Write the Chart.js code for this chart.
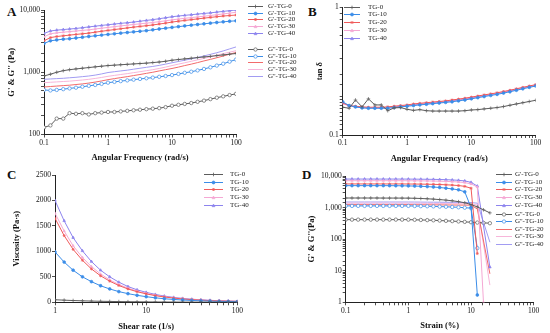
<!DOCTYPE html>
<html>
<head>
<meta charset="utf-8">
<script src="https://cdn.jsdelivr.net/npm/chart.js@4.4.1/dist/chart.umd.min.js"></script>
<style>
  body { margin: 0; width: 550px; height: 333px; position: relative; overflow: hidden; background: #fff;
         font-family: "Liberation Serif", "DejaVu Serif", serif; }
  canvas { position: absolute; }
  .tag { position: absolute; font-weight: bold; font-size: 13px; line-height: 13px; color: #111; }
  .lg { position: absolute; font-size: 7px; line-height: 7px; color: #222; white-space: nowrap; }
  .lg svg { position: absolute; overflow: visible; }
</style>
</head>
<body>
<div class="tag" style="left:7px;top:4.5px">A</div>
<div class="tag" style="left:308px;top:4.5px">B</div>
<div class="tag" style="left:7px;top:167.5px">C</div>
<div class="tag" style="left:302px;top:167.5px">D</div>

<canvas id="chartA" width="244" height="164" style="left:0;top:0"></canvas>
<canvas id="chartB" width="275" height="166" style="left:275px;top:0"></canvas>
<canvas id="chartC" width="244" height="165" style="left:0;top:168px"></canvas>
<canvas id="chartD" width="275" height="165" style="left:275px;top:168px"></canvas>

<script>
const SERIF = '"Liberation Serif", "DejaVu Serif", serif';

// A / B : frequency sweep
const freq = [0.1, 0.126, 0.158, 0.2, 0.251, 0.316, 0.398, 0.501, 0.631, 0.794,
  1, 1.26, 1.58, 2, 2.51, 3.16, 3.98, 5.01, 6.31, 7.94,
  10, 12.6, 15.8, 20, 25.1, 31.6, 39.8, 50.1, 63.1, 79.4, 100];

const aGp0  = [870, 930, 1000, 1060, 1100, 1130, 1160, 1190, 1220, 1250, 1280, 1300, 1320, 1340, 1360, 1380, 1400, 1430, 1460, 1500, 1560, 1600, 1640, 1680, 1720, 1760, 1800, 1850, 1900, 1950, 2000];
const aGp10 = [2900, 3200, 3300, 3400, 3450, 3550, 3650, 3750, 3850, 3950, 4050, 4150, 4250, 4350, 4450, 4550, 4650, 4800, 4950, 5100, 5250, 5400, 5550, 5700, 5850, 6000, 6150, 6300, 6450, 6600, 6700];
const aGp20 = [3200, 3600, 3750, 3850, 3950, 4050, 4150, 4250, 4400, 4550, 4700, 4850, 5000, 5150, 5300, 5450, 5600, 5750, 5950, 6150, 6400, 6600, 6800, 7000, 7200, 7400, 7600, 7800, 8000, 8150, 8300];
const aGp30 = [3700, 4150, 4300, 4400, 4500, 4600, 4700, 4800, 4950, 5100, 5250, 5400, 5550, 5700, 5850, 6000, 6150, 6300, 6500, 6700, 6950, 7150, 7350, 7550, 7750, 7950, 8150, 8400, 8650, 8900, 9200];
const aGp40 = [4200, 4600, 4750, 4850, 4950, 5050, 5200, 5350, 5500, 5650, 5800, 5950, 6100, 6250, 6400, 6600, 6800, 7000, 7250, 7500, 7800, 8000, 8200, 8400, 8600, 8800, 9000, 9250, 9500, 9750, 10000];

const aGpp0  = [130, 140, 180, 180, 220, 215, 220, 210, 220, 225, 230, 230, 235, 240, 245, 250, 255, 260, 265, 275, 290, 300, 310, 320, 335, 350, 370, 390, 410, 430, 450];
const aGpp10 = [520, 510, 520, 535, 550, 565, 585, 605, 625, 650, 680, 700, 720, 740, 760, 780, 800, 820, 845, 870, 900, 940, 980, 1020, 1070, 1130, 1200, 1280, 1370, 1480, 1600];
const aGpp20 = [580, 590, 600, 610, 620, 635, 650, 670, 695, 725, 760, 790, 820, 850, 885, 920, 960, 1000, 1050, 1100, 1150, 1210, 1280, 1350, 1430, 1520, 1610, 1710, 1820, 1950, 2080];
const aGpp30 = [680, 690, 700, 710, 720, 735, 750, 770, 795, 825, 860, 890, 920, 950, 985, 1020, 1060, 1100, 1150, 1210, 1280, 1350, 1420, 1500, 1580, 1670, 1770, 1880, 1990, 2100, 2220];
const aGpp40 = [770, 780, 790, 800, 815, 830, 850, 870, 900, 940, 990, 1020, 1050, 1080, 1120, 1160, 1200, 1240, 1290, 1350, 1420, 1490, 1560, 1640, 1730, 1830, 1940, 2060, 2200, 2370, 2550];

const tan0  = [0.165, 0.162, 0.188, 0.166, 0.192, 0.172, 0.172, 0.155, 0.163, 0.164, 0.159, 0.156, 0.158, 0.155, 0.154, 0.154, 0.154, 0.154, 0.154, 0.155, 0.157, 0.158, 0.160, 0.162, 0.164, 0.167, 0.171, 0.175, 0.179, 0.183, 0.187];
const tan10 = [0.182, 0.170, 0.166, 0.163, 0.162, 0.162, 0.162, 0.162, 0.164, 0.166, 0.168, 0.170, 0.172, 0.174, 0.176, 0.178, 0.180, 0.182, 0.185, 0.188, 0.192, 0.196, 0.200, 0.204, 0.208, 0.213, 0.218, 0.224, 0.230, 0.236, 0.242];
const tan20 = [0.178, 0.170, 0.168, 0.166, 0.165, 0.165, 0.165, 0.166, 0.168, 0.170, 0.172, 0.175, 0.177, 0.179, 0.181, 0.183, 0.185, 0.188, 0.191, 0.194, 0.198, 0.202, 0.206, 0.210, 0.214, 0.219, 0.224, 0.230, 0.236, 0.242, 0.248];
const tan30 = [0.176, 0.169, 0.167, 0.165, 0.164, 0.164, 0.164, 0.165, 0.167, 0.169, 0.171, 0.174, 0.176, 0.178, 0.180, 0.182, 0.184, 0.187, 0.190, 0.193, 0.197, 0.201, 0.205, 0.209, 0.213, 0.218, 0.223, 0.229, 0.235, 0.241, 0.247];
const tan40 = [0.178, 0.169, 0.166, 0.164, 0.163, 0.163, 0.163, 0.164, 0.166, 0.168, 0.170, 0.172, 0.174, 0.176, 0.178, 0.180, 0.182, 0.185, 0.188, 0.191, 0.195, 0.199, 0.203, 0.207, 0.211, 0.216, 0.221, 0.227, 0.233, 0.239, 0.245];

// C : flow curve
const shearRate = [1, 1.26, 1.58, 2, 2.51, 3.16, 3.98, 5.01, 6.31, 7.94,
  10, 12.6, 15.8, 20, 25.1, 31.6, 39.8, 50.1, 63.1, 79.4, 100];
const visc0  = [50, 42, 35, 29, 24, 20, 17, 14, 12, 10, 8, 7, 6, 5, 4, 3.5, 3, 2.5, 2, 1.8, 1.5];
const visc10 = [990, 790, 630, 500, 405, 325, 262, 210, 170, 137, 110, 88, 70, 56, 45, 36, 29, 23, 18, 15, 12];
const visc20 = [1650, 1310, 1040, 825, 655, 520, 415, 330, 262, 208, 165, 131, 104, 83, 66, 52, 42, 33, 26, 21, 17];
const visc30 = [1750, 1400, 1110, 880, 700, 555, 440, 350, 278, 220, 175, 139, 110, 87, 69, 55, 44, 35, 28, 22, 18];
const visc40 = [2000, 1600, 1270, 1010, 800, 630, 500, 395, 310, 245, 195, 155, 122, 97, 77, 61, 49, 39, 31, 25, 20];

// D : strain sweep
const strain = [0.1, 0.126, 0.158, 0.2, 0.251, 0.316, 0.398, 0.501, 0.631, 0.794,
  1, 1.26, 1.58, 2, 2.51, 3.16, 3.98, 5.01, 6.31, 7.94, 10, 12.6, 15.8, 20];
const dGp0  = [2010, 2010, 2010, 2010, 2010, 2010, 2000, 2000, 2000, 1995, 1990, 1970, 1940, 1900, 1850, 1790, 1720, 1640, 1540, 1420, 1250, 1050, 850, 680];
const dGp10 = [4950, 4950, 4950, 4950, 4950, 4950, 4950, 4940, 4920, 4900, 4850, 4800, 4720, 4620, 4480, 4320, 4120, 3900, 3650, 3150, 1000, 1.7, null, null];
const dGp20 = [5600, 5600, 5600, 5600, 5600, 5600, 5600, 5600, 5600, 5600, 5580, 5560, 5530, 5490, 5440, 5370, 5270, 5150, 4980, 4700, 4100, 35, null, null];
const dGp30 = [7100, 7100, 7100, 7100, 7100, 7100, 7100, 7100, 7100, 7100, 7080, 7050, 7020, 6980, 6920, 6850, 6750, 6620, 6450, 6200, 5600, 4500, 1, null];
const dGp40 = [8000, 8000, 8000, 8000, 8000, 8000, 8000, 8000, 8000, 8000, 7980, 7950, 7920, 7880, 7820, 7750, 7650, 7500, 7300, 7000, 6300, 4800, null, 13];
const dGpp0  = [415, 415, 415, 415, 415, 415, 415, 415, 415, 415, 415, 410, 405, 400, 395, 388, 380, 372, 363, 353, 343, 335, 328, 320];
const dGpp10 = [1130, 1130, 1130, 1130, 1130, 1130, 1130, 1130, 1130, 1130, 1130, 1120, 1110, 1100, 1090, 1075, 1060, 1040, 1020, 990, 960, 52, null, null];
const dGpp20 = [1240, 1240, 1240, 1240, 1240, 1240, 1240, 1240, 1240, 1240, 1240, 1235, 1230, 1225, 1220, 1215, 1210, 1205, 1200, 1195, 1190, 900, null, 8];
const dGpp30 = [1370, 1370, 1370, 1370, 1370, 1370, 1370, 1370, 1370, 1370, 1370, 1365, 1360, 1355, 1350, 1345, 1340, 1335, 1330, 1320, 1310, 1200, null, 3.5];
const dGpp40 = [1500, 1500, 1500, 1500, 1500, 1500, 1500, 1500, 1500, 1500, 1500, 1495, 1490, 1485, 1480, 1475, 1470, 1465, 1460, 1450, 1440, 1380, null, 80];

// look of each sample
const STY = {
  p0:  { color: '#5c5c5c', shape: 'cross',    r: 1.8, fill: true },
  p10: { color: '#3b8de8', shape: 'circle',   r: 1.4, fill: true },
  p20: { color: '#f05a5a', shape: 'star',     r: 1.5, fill: true },
  p30: { color: '#f5a8d4', shape: 'triangle', r: 1.3, fill: true },
  p40: { color: '#8d84ee', shape: 'triangle', r: 1.5, fill: true },
  q0:  { color: '#5c5c5c', shape: 'circle',   r: 1.7, fill: false },
  q10: { color: '#3b8de8', shape: 'circle',   r: 1.7, fill: false },
  q20: { color: '#f26b6b', shape: 'circle',   r: 0 },
  q30: { color: '#f7b6da', shape: 'circle',   r: 0 },
  q40: { color: '#a29cf2', shape: 'circle',   r: 0 }
};

function pts(xs, ys) {
  return xs.map((x, i) => ({ x: x, y: ys[i] }));
}

function series(label, xs, ys, st) {
  return {
    label: label,
    data: pts(xs, ys),
    borderColor: st.color,
    backgroundColor: st.fill ? st.color : '#fff',
    pointBorderColor: st.color,
    pointBackgroundColor: st.fill ? st.color : '#fff',
    pointStyle: st.shape,
    pointRadius: st.r,
    pointBorderWidth: 0.7,
    borderWidth: 1,
    tension: 0,
    spanGaps: true,
    _st: st
  };
}

function isDecade(v) {
  const l = Math.log10(v);
  return Math.abs(l - Math.round(l)) < 1e-6;
}
function fmt(v) {
  const n = Math.pow(10, Math.round(Math.log10(v)));
  return n >= 1000 ? n.toLocaleString('en-US') : String(+n.toPrecision(3));
}

function axis(type, min, max, title, size, isY) {
  const a = {
    type: type, min: min, max: max,
    title: { display: true, text: title, color: '#111',
             font: { family: SERIF, size: 8.5, weight: 'bold' }, padding: { top: 1, bottom: 1 } },
    ticks: { autoSkip: false, maxRotation: 0, color: '#111', padding: 1,
             font: { family: SERIF, size: 7.5 } },
    grid: { display: true, drawOnChartArea: false, drawTicks: true, tickLength: 3,
            tickColor: '#222', tickWidth: 0.8 },
    border: { display: true, color: '#222', width: 1 },
    afterFit: function (s) { if (isY) s.width = size; else s.height = size; }
  };
  if (type === 'logarithmic') a.ticks.callback = v => isDecade(v) ? fmt(v) : '';
  else a.ticks.callback = v => String(v);
  return a;
}

function makeChart(id, datasets, xAxis, yAxis, pad) {
  return new Chart(document.getElementById(id), {
    type: 'line',
    data: { datasets: datasets },
    options: {
      responsive: false, animation: false, devicePixelRatio: 1,
      layout: { padding: pad },
      plugins: { legend: { display: false }, tooltip: { enabled: false } },
      scales: { x: xAxis, y: yAxis }
    }
  });
}

function markerSvg(st, cx, cy) {
  const r = st.r ? Math.max(st.r, 1.5) : 0;
  if (!r) return '';
  const c = st.color, f = st.fill ? st.color : '#fff';
  if (st.shape === 'circle') return `<circle cx="${cx}" cy="${cy}" r="${r}" fill="${f}" stroke="${c}" stroke-width="0.7"/>`;
  if (st.shape === 'triangle') return `<polygon points="${cx},${cy - r} ${cx - r},${cy + r * 0.8} ${cx + r},${cy + r * 0.8}" fill="${f}" stroke="${c}" stroke-width="0.6"/>`;
  let s = `<line x1="${cx - r}" y1="${cy}" x2="${cx + r}" y2="${cy}" stroke="${c}" stroke-width="0.8"/><line x1="${cx}" y1="${cy - r}" x2="${cx}" y2="${cy + r}" stroke="${c}" stroke-width="0.8"/>`;
  if (st.shape === 'star') s += `<line x1="${cx - r * 0.7}" y1="${cy - r * 0.7}" x2="${cx + r * 0.7}" y2="${cy + r * 0.7}" stroke="${c}" stroke-width="0.8"/><line x1="${cx - r * 0.7}" y1="${cy + r * 0.7}" x2="${cx + r * 0.7}" y2="${cy - r * 0.7}" stroke="${c}" stroke-width="0.8"/>`;
  return s;
}

// html legend, one row per dataset
function legend(datasets, rowsY, lineX, lineLen, textX) {
  datasets.forEach((d, i) => {
    const y = rowsY[i];
    const row = document.createElement('div');
    row.className = 'lg';
    row.style.left = lineX + 'px';
    row.style.top = (y - 3.5) + 'px';
    row.innerHTML = `<svg width="${lineLen}" height="7" style="left:0;top:0">` +
      `<line x1="0" y1="3.5" x2="${lineLen}" y2="3.5" stroke="${d._st.color}" stroke-width="1"/>` +
      markerSvg(d._st, lineLen / 2, 3.5) + `</svg>` +
      `<span style="position:absolute;left:${textX - lineX}px;top:0">${d.label}</span>`;
    document.body.appendChild(row);
  });
}

// ---- A
const dsA = [
  series("G'-TG-0", freq, aGp0, STY.p0),
  series("G'-TG-10", freq, aGp10, STY.p10),
  series("G'-TG-20", freq, aGp20, STY.p20),
  series("G'-TG-30", freq, aGp30, STY.p30),
  series("G'-TG-40", freq, aGp40, STY.p40),
  series("G''-TG-0", freq, aGpp0, STY.q0),
  series("G''-TG-10", freq, aGpp10, STY.q10),
  series("G''-TG-20", freq, aGpp20, STY.q20),
  series("G''-TG-30", freq, aGpp30, STY.q30),
  series("G''-TG-40", freq, aGpp40, STY.q40)
];
makeChart('chartA', dsA,
  axis('logarithmic', 0.1, 100, 'Angular Frequency (rad/s)', 29.5, false),
  axis('logarithmic', 100, 10000, "G' & G'' (Pa)", 38.5, true),
  { left: 5.5, top: 10, right: 8, bottom: 0 });
legend(dsA, [6.5, 13.2, 19.9, 26.6, 33.3, 49.5, 56.2, 62.9, 69.6, 76.3], 248, 15, 268);

// ---- B
const dsB = [
  series('TG-0', freq, tan0, STY.p0),
  series('TG-10', freq, tan10, STY.p10),
  series('TG-20', freq, tan20, STY.p20),
  series('TG-30', freq, tan30, STY.p30),
  series('TG-40', freq, tan40, STY.p40)
];
makeChart('chartB', dsB,
  axis('logarithmic', 0.1, 100, 'Angular Frequency (rad/s)', 30.3, false),
  axis('logarithmic', 0.1, 1, 'tan δ', 28.7, true),
  { left: 39, top: 7.3, right: 14.3, bottom: 0.7 });
legend(dsB, [7, 14.9, 22.8, 30.7, 38.6], 344, 16, 368);

// ---- C
const dsC = [
  series('TG-0', shearRate, visc0, STY.p0),
  series('TG-10', shearRate, visc10, STY.p10),
  series('TG-20', shearRate, visc20, STY.p20),
  series('TG-30', shearRate, visc30, STY.p30),
  series('TG-40', shearRate, visc40, STY.p40)
];
const yC = axis('linear', 0, 2500, 'Viscosity (Pa·s)', 44.3, true);
yC.ticks.stepSize = 500;
makeChart('chartC', dsC,
  axis('logarithmic', 1, 100, 'Shear rate (1/s)', 30.4, false),
  yC,
  { left: 10.7, top: 7, right: 6, bottom: 0.3 });
legend(dsC, [174.3, 182, 189.8, 197.5, 205.3], 204, 19, 230);

// ---- D
const dsD = [
  series("G'-TG-0", strain, dGp0, STY.p0),
  series("G'-TG-10", strain, dGp10, STY.p10),
  series("G'-TG-20", strain, dGp20, STY.p20),
  series("G'-TG-30", strain, dGp30, STY.p30),
  series("G'-TG-40", strain, dGp40, STY.p40),
  series("G''-TG-0", strain, dGpp0, STY.q0),
  series("G''-TG-10", strain, dGpp10, STY.q10),
  series("G''-TG-20", strain, dGpp20, STY.q20),
  series("G''-TG-30", strain, dGpp30, STY.q30),
  series("G''-TG-40", strain, dGpp40, STY.q40)
];
makeChart('chartD', dsD,
  axis('logarithmic', 0.1, 100, 'Strain (%)', 29.4, false),
  axis('logarithmic', 1, 10000, "G' & G''(Pa)", 40, true),
  { left: 30.7, top: 8, right: 16.3, bottom: 1.3 });
legend(dsD, [174.3, 182, 189.8, 197.5, 205.3, 214.3, 221.8, 229.3, 236.8, 244.3], 496, 16, 515);
</script>
</body>
</html>
